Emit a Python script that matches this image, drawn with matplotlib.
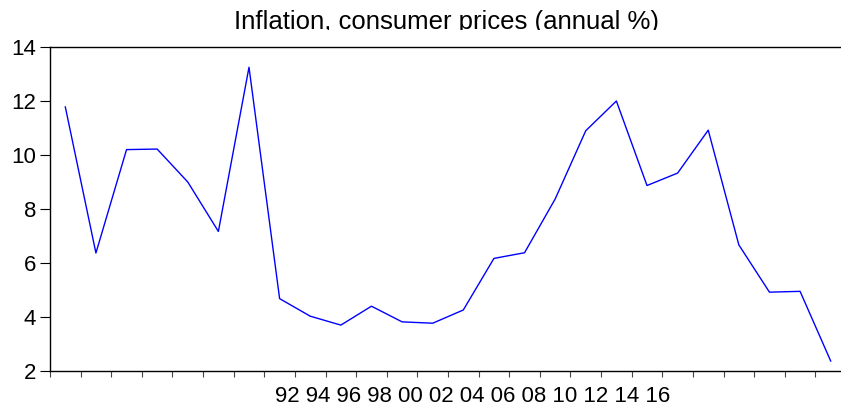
import matplotlib.pyplot as plt
import numpy as np
from matplotlib.transforms import Bbox

# annual inflation, consumer prices (%), one value per year
inflation = [11.78, 6.37, 10.2, 10.22, 9.0, 7.17, 13.25, 4.68, 4.03, 3.7,
             4.4, 3.82, 3.77, 4.26, 6.17, 6.38, 8.37, 10.9, 12.0, 8.87,
             9.33, 10.92, 6.67, 4.92, 4.95, 2.37]
year_labels = ["92", "94", "96", "98", "00", "02", "04", "06", "08", "10", "12", "14", "16"]
y_ticks = [2, 4, 6, 8, 10, 12, 14]

plt.rcParams['font.family'] = ['Liberation Sans', 'DejaVu Sans']

fig = plt.figure(figsize=(8.41, 4.12), dpi=100)
ax = fig.add_axes([50 / 841, 1 - 371 / 412, 796 / 841, (371 - 47) / 412])

x = np.arange(len(inflation))
ax.plot(x, inflation, color="#0000FF", linewidth=1.0)

ax.set_xlim(-0.5, len(inflation) - 0.5)
ax.set_ylim(2, 14)
ax.set_yticks(y_ticks)
ax.tick_params(axis="y", direction="out", length=7, width=0.8, labelsize=16, pad=3)

# boundary ticks between years, no labels
ax.set_xticks(np.arange(len(inflation) + 1) - 0.5)
ax.set_xticklabels([])
ax.tick_params(axis="x", direction="out", length=4.5, width=0.8, color="#444444")

# the year labels sit as one string under the axis
ax.text(13.3, -0.045, " ".join(year_labels), transform=ax.get_xaxis_transform(),
        ha="center", va="top", fontsize=16)

for s in ["left", "top", "bottom", "right"]:
    ax.spines[s].set_linewidth(1.0)

# title, cut off just under the baseline like the original
title = fig.text(446 / 841, 1 - 29 / 412, "Inflation, consumer prices (annual %)",
                 ha="center", va="baseline", fontsize=18.5)
title.set_clip_box(Bbox.from_extents(0, 412 - 30, 841, 412))
title.set_clip_on(True)

fig.savefig("out.png", dpi=100)
